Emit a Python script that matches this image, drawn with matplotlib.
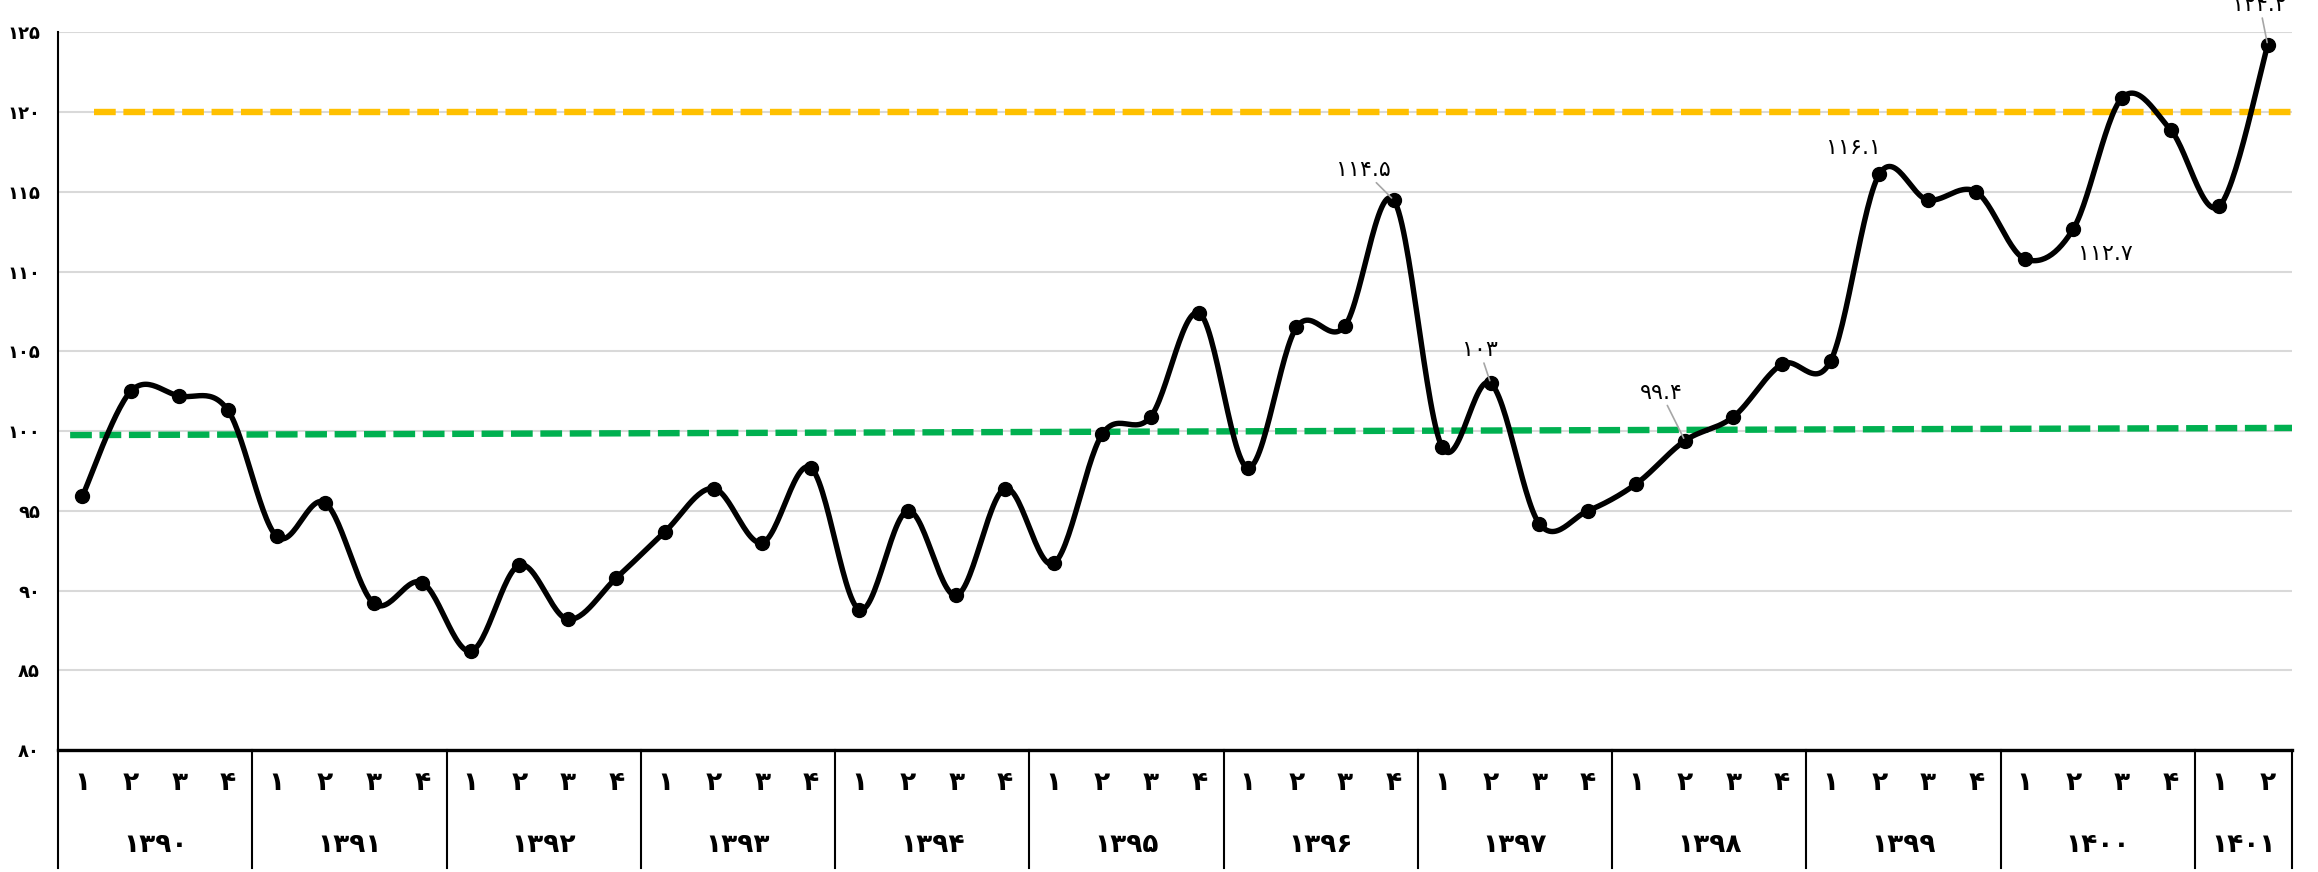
import numpy as np
import matplotlib
matplotlib.use("Agg")
from matplotlib import pyplot as plt
from matplotlib import transforms

plt.rcParams['font.family'] = ['DejaVu Sans']

# fiscal years and quarters
years = ['1390', '1391', '1392', '1393', '1394', '1395',
         '1396', '1397', '1398', '1399', '1400', '1401']
quarters_per_year = [4, 4, 4, 4, 4, 4, 4, 4, 4, 4, 4, 2]

index_values = [95.9, 102.5, 102.2, 101.3,
                93.4, 95.5, 89.2, 90.5,
                86.2, 91.6, 88.2, 90.8,
                93.7, 96.4, 93.0, 97.7,
                88.8, 95.0, 89.7, 96.4,
                91.7, 99.8, 100.9, 107.4,
                97.7, 106.5, 106.6, 114.5,
                99.0, 103.0, 94.2, 95.0,
                96.7, 99.4, 100.9, 104.2,
                104.4, 116.1, 114.5, 115.0,
                110.8, 112.7, 120.9, 118.9,
                114.1, 124.2]

# labelled points: (position in series, text, offset in pixels)
labels = [(27, '114.5', (-30, 30)),
          (29, '103', (-11, 33)),
          (33, '99.4', (-24, 48)),
          (37, '116.1', (-26, 26)),
          (41, '112.7', (32, -25)),
          (45, '124.2', (-8, 40))]
leader = [True, True, True, False, False, True]

green_level = [99.75, 100.2]
yellow_level = 120

FA = str.maketrans('0123456789', '۰۱۲۳۴۵۶۷۸۹')


def fa(s):
    return str(s).translate(FA)


def smooth(x, y, n=30):
    # excel style smoothed line (catmull-rom bezier)
    p = np.column_stack([x, y]).astype(float)
    out = []
    for i in range(len(p) - 1):
        p0 = p[i - 1] if i > 0 else p[i]
        p3 = p[i + 2] if i + 2 < len(p) else p[i + 1]
        c1 = p[i] + (p[i + 1] - p0) / 6
        c2 = p[i + 1] - (p3 - p[i]) / 6
        t = np.linspace(0, 1, n)[:, None]
        seg = ((1 - t) ** 3 * p[i] + 3 * (1 - t) ** 2 * t * c1
               + 3 * (1 - t) * t ** 2 * c2 + t ** 3 * p[i + 1])
        out.append(seg if i == 0 else seg[1:])
    out = np.vstack(out)
    return out[:, 0], out[:, 1]


x = np.arange(len(index_values))
n = len(index_values)

fig = plt.figure(figsize=(23.18, 8.72), dpi=100)
ax = fig.add_axes([0.02502, 0.13991, 0.96376, 0.82282])
ax.set_xlim(-0.5, n - 0.5)
ax.set_ylim(80, 125)

ax.set_yticks(np.arange(80, 126, 5))
ax.set_yticklabels([fa(v) for v in range(80, 126, 5)], fontsize=13, fontweight='bold')
ax.tick_params(axis='y', length=0, pad=13)
ax.set_xticks([])
ax.yaxis.grid(True, color='#D9D9D9', lw=1.5)
ax.set_axisbelow(True)
for s in ['top', 'right']:
    ax.spines[s].set_visible(False)
ax.spines['left'].set_linewidth(1.5)
ax.spines['bottom'].set_linewidth(2.4)

ax.plot([-0.25, n - 0.5], green_level, color='#00B050', lw=4.6, dashes=(3.4, 1.2))
ax.plot([0.25, n - 0.5], [yellow_level, yellow_level], color='#FFC000', lw=4.6, dashes=(3.4, 1.2))

sx, sy = smooth(x, index_values)
ax.plot(sx, sy, color='black', lw=3.9, solid_capstyle='round')
ax.plot(x, index_values, 'o', color='black', ms=10)

for (i, txt, off), ld in zip(labels, leader):
    arrow = dict(arrowstyle='-', color='#A6A6A6', lw=1.2, shrinkA=0, shrinkB=2) if ld else None
    ax.annotate(fa(txt), (x[i], index_values[i]), xytext=off, textcoords='offset pixels',
                ha='center', va='center', fontsize=16, arrowprops=arrow,
                annotation_clip=False)

# category axis: quarters and years
trans = transforms.blended_transform_factory(ax.transData, ax.transAxes)
pos = 0
edges = [-0.5]
for yr, nq in zip(years, quarters_per_year):
    for q in range(nq):
        ax.text(pos + q, -0.046, fa(q + 1), transform=trans, ha='center', va='center',
                fontsize=19, fontweight='bold')
    ax.text(pos + (nq - 1) / 2, -0.1326, fa(yr), transform=trans, ha='center', va='center',
            fontsize=19, fontweight='bold')
    pos += nq
    edges.append(pos - 0.5)

for e in edges:
    ax.plot([e, e], [0, -0.165], transform=trans, color='black', lw=1.5, clip_on=False)

fig.savefig('out.png', dpi=100)
